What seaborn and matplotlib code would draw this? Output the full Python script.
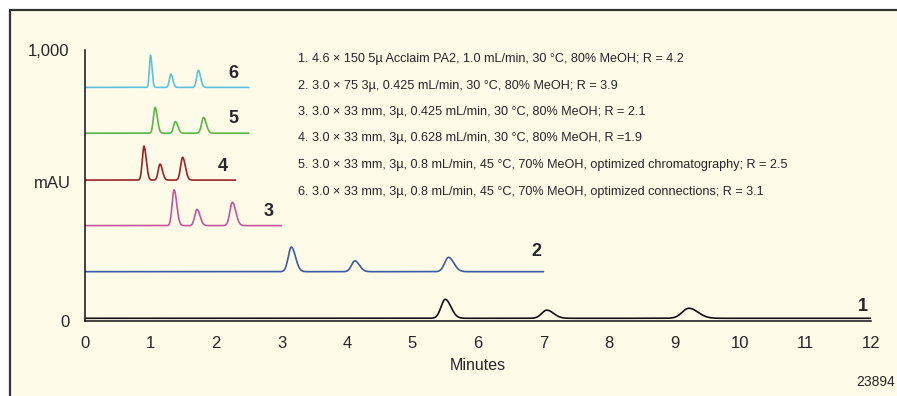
import numpy as np
import pandas as pd
import matplotlib
matplotlib.use("Agg")
import matplotlib.pyplot as plt
from matplotlib.patches import Rectangle
import seaborn as sns

# Chromatogram runs: baseline offset (mAU), run end (min), peaks
run_ids = ["1", "2", "3", "4", "5", "6"]
offsets = [10, 182, 352, 520, 693, 862]
run_end = [12.0, 7.0, 3.0, 2.3, 2.5, 2.5]
peak_times = [[5.50, 7.05, 9.22],
              [3.15, 4.12, 5.55],
              [1.36, 1.71, 2.25],
              [0.90, 1.145, 1.49],
              [1.07, 1.38, 1.81],
              [1.00, 1.31, 1.73]]
peak_heights = [[70, 30, 37],
                [91, 40, 53],
                [132, 60, 86],
                [125, 59, 84],
                [95, 43, 58],
                [119, 49, 63]]
peak_widths = [[0.075, 0.09, 0.12],
               [0.055, 0.06, 0.07],
               [0.035, 0.04, 0.045],
               [0.03, 0.032, 0.036],
               [0.03, 0.032, 0.036],
               [0.02, 0.026, 0.03]]
colors = ["#111111", "#3B5AAA", "#C6559F", "#9E2127", "#5DB547", "#5BC3DF"]
conditions = [
    "1. 4.6 × 150 5µ Acclaim PA2, 1.0 mL/min, 30 °C, 80% MeOH; R = 4.2",
    "2. 3.0 × 75 3µ, 0.425 mL/min, 30 °C, 80% MeOH; R = 3.9",
    "3. 3.0 × 33 mm, 3µ, 0.425 mL/min, 30 °C, 80% MeOH; R = 2.1",
    "4. 3.0 × 33 mm, 3µ, 0.628 mL/min, 30 °C, 80% MeOH, R =1.9",
    "5. 3.0 × 33 mm, 3µ, 0.8 mL/min, 45 °C, 70% MeOH, optimized chromatography; R = 2.5",
    "6. 3.0 × 33 mm, 3µ, 0.8 mL/min, 45 °C, 70% MeOH, optimized connections; R = 3.1",
]
x_ticks = list(range(0, 13))
y_ticks = [0, 1000]
y_ticklabels = ["0", "1,000"]


def trace(end, times, heights, widths, base):
    t = np.linspace(0, end, 1500)
    s = np.full_like(t, float(base))
    for tr, h, w in zip(times, heights, widths):
        sig = np.where(t < tr, w * 0.85, w * 1.15)  # slight tailing
        s += h * np.exp(-0.5 * ((t - tr) / sig) ** 2)
    return t, s


frames = []
for rid, base, end, pt, ph, pw in zip(run_ids, offsets, run_end, peak_times, peak_heights, peak_widths):
    t, s = trace(end, pt, ph, pw, base)
    frames.append(pd.DataFrame({"Minutes": t, "mAU": s, "run": rid}))
df = pd.concat(frames, ignore_index=True)

sns.set_style("white")
plt.rcParams["font.family"] = ["Liberation Sans", "DejaVu Sans"]

bg = "#FEFBE8"
fig = plt.figure(figsize=(8.97, 3.96), dpi=100)
fig.patch.set_facecolor("white")
fig.add_artist(Rectangle((10 / 897, -0.1), 1.1, (386 / 396) + 0.1, transform=fig.transFigure,
                         facecolor=bg, edgecolor="#333333", linewidth=1.6, zorder=0))

ax = fig.add_axes([85 / 897, 75 / 396, 786 / 897, 271 / 396])
ax.set_facecolor("none")
sns.lineplot(data=df, x="Minutes", y="mAU", hue="run", palette=dict(zip(run_ids, colors)),
             legend=False, linewidth=1.2, ax=ax, sort=False, estimator=None)

ax.set_xlim(0, 12)
ax.set_ylim(0, 1000)
ax.set_xticks(x_ticks)
ax.set_xticklabels([str(v) for v in x_ticks], fontsize=12)
ax.set_yticks(y_ticks)
ax.set_yticklabels(y_ticklabels, fontsize=12)
ax.tick_params(direction="out", length=8, width=1.1, color="#111111", pad=3)
for side in ["top", "right"]:
    ax.spines[side].set_visible(False)
for side in ["left", "bottom"]:
    ax.spines[side].set_linewidth(1.1)
    ax.spines[side].set_color("#111111")
ax.set_xlabel("Minutes", fontsize=11.5, labelpad=5)
ax.set_ylabel("")
ax.text(-0.041, 509, "mAU", transform=ax.get_yaxis_transform(), ha="center", va="center", fontsize=12)

# run numbers next to each trace
label_pos = [(11.88, 55), (6.89, 258), (2.8, 404), (2.1, 570), (2.26, 748), (2.26, 912)]
for rid, (lx, ly) in zip(run_ids, label_pos):
    ax.text(lx, ly, rid, fontsize=13, fontweight="bold", ha="center", va="center")

# run conditions
for i, txt in enumerate(conditions):
    fig.text(298 / 897, 1 - (59 + 26.5 * i) / 396, txt, fontsize=9.1, ha="left", va="center")

fig.text(895 / 897, 1 - 382 / 396, "23894", fontsize=10, ha="right", va="center")

fig.savefig("out.png", dpi=100, facecolor="white")
